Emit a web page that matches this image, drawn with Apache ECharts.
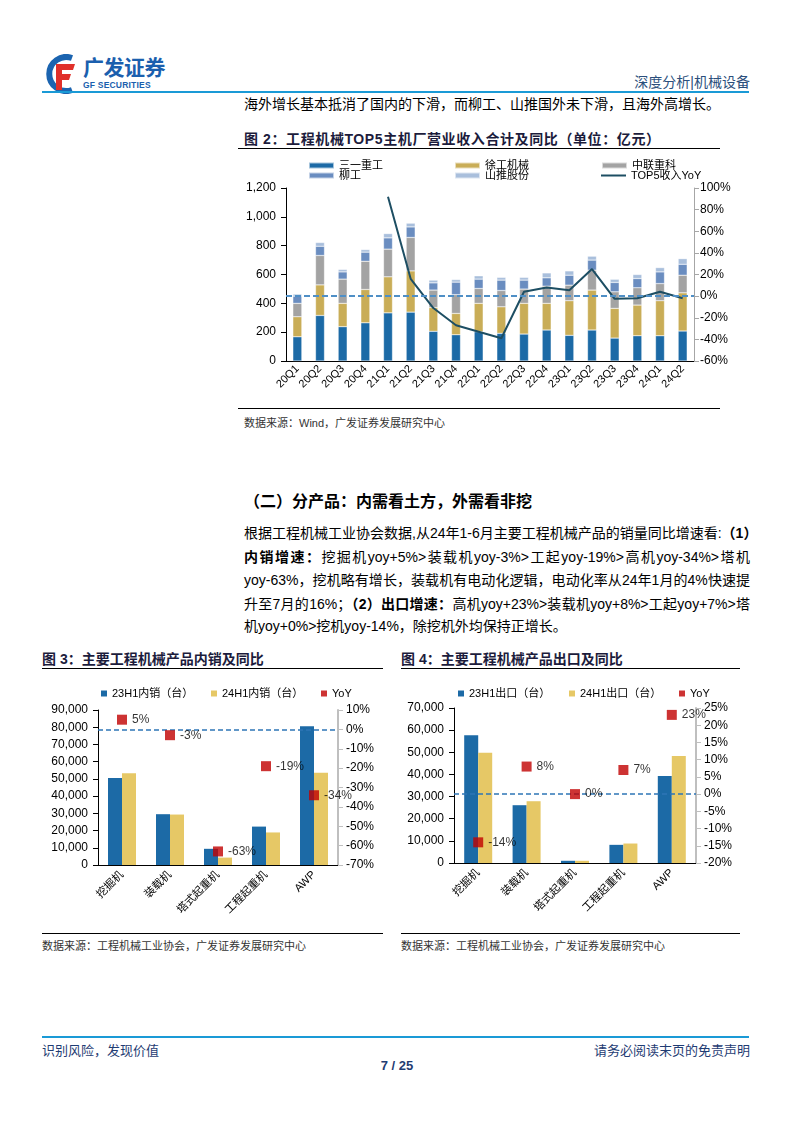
<!DOCTYPE html>
<html>
<head>
<meta charset="utf-8">
<script src="https://cdn.jsdelivr.net/npm/echarts@6/dist/echarts.min.js"></script>
<style>
  body { margin: 0; width: 794px; height: 1123px; background: #fff; position: relative;
         font-family: "Liberation Sans", Arial, "Noto Sans CJK SC", sans-serif; color: #000; }
  .abs { position: absolute; }
  .hline { position: absolute; height: 0; border-top: 1px solid #000; }
  .blue-line { position: absolute; height: 2px; background: #1a9ad6; }
  .title { font-size: 14px; font-weight: bold; color: #1c1c3c; white-space: nowrap; }
  .src { font-size: 11px; color: #333; white-space: nowrap; }
  .para { left: 244px; width: 506px; font-size: 14px; line-height: 18px; white-space: nowrap; }
  .just { text-align: justify; text-align-last: justify; }
</style>
</head>
<body>

<!-- header -->
<svg class="abs" style="left:42px;top:54px" width="40" height="40" viewBox="0 0 40 40">
  <path d="M30 4 A17 17 0 1 0 30 36" fill="none" stroke="#1b64b0" stroke-width="6"/>
  <path d="M14 10 H33 L31 16 H20 V20 H29 L27 26 H20 V36 H14 Z" fill="#e0302a"/>
</svg>
<div class="abs" style="left:83px;top:57px;font-size:21px;line-height:21px;font-weight:bold;color:#1b5fae;letter-spacing:-0.5px">广发证券</div>
<div class="abs" style="left:83px;top:81px;font-size:8.5px;line-height:9px;font-weight:bold;color:#1b5fae;letter-spacing:0.2px">GF SECURITIES</div>
<div class="abs" style="right:44px;top:71px;font-size:14px;color:#2b4f7c">深度分析|机械设备</div>
<div class="blue-line" style="left:42px;top:91px;width:707px"></div>
<div class="abs" style="left:244px;top:93px;font-size:14px">海外增长基本抵消了国内的下滑，而柳工、山推国外未下滑，且海外高增长。</div>

<!-- figure 2 -->
<div class="abs title" style="left:244px;top:128px;letter-spacing:0.6px">图 2：工程机械TOP5主机厂营业收入合计及同比（单位：亿元）</div>
<div class="hline" style="left:238px;top:148px;width:482px"></div>
<div id="chart1" class="abs" style="left:230px;top:150px;width:510px;height:250px"></div>
<div class="hline" style="left:238px;top:408px;width:482px"></div>
<div class="abs src" style="left:244px;top:414px">数据来源：Wind，广发证券发展研究中心</div>

<!-- section text -->
<div class="abs" style="left:244px;top:488px;font-size:16px;font-weight:bold">（二）分产品：内需看土方，外需看非挖</div>
<div class="abs para just" style="top:524px">根据工程机械工业协会数据,从24年1-6月主要工程机械产品的销量同比增速看:<b>（1）</b></div>
<div class="abs para just" style="top:548px"><b>内销增速：</b>挖掘机yoy+5%&gt;装载机yoy-3%&gt;工起yoy-19%&gt;高机yoy-34%&gt;塔机</div>
<div class="abs para just" style="top:571px">yoy-63%，挖机略有增长，装载机有电动化逻辑，电动化率从24年1月的4%快速提</div>
<div class="abs para just" style="top:595px">升至7月的16%；<b>（2）出口增速：</b>高机yoy+23%&gt;装载机yoy+8%&gt;工起yoy+7%&gt;塔</div>
<div class="abs para" style="top:617px">机yoy+0%&gt;挖机yoy-14%，除挖机外均保持正增长。</div>

<!-- figure 3 -->
<div class="abs title" style="left:42px;top:648px">图 3：主要工程机械产品内销及同比</div>
<div class="hline" style="left:42px;top:668px;width:341px"></div>
<div id="chart2" class="abs" style="left:40px;top:675px;width:345px;height:250px"></div>
<div class="hline" style="left:42px;top:933px;width:341px"></div>
<div class="abs src" style="left:42px;top:937px">数据来源：工程机械工业协会，广发证券发展研究中心</div>

<!-- figure 4 -->
<div class="abs title" style="left:401px;top:648px">图 4：主要工程机械产品出口及同比</div>
<div class="hline" style="left:401px;top:668px;width:339px"></div>
<div id="chart3" class="abs" style="left:398px;top:675px;width:350px;height:250px"></div>
<div class="hline" style="left:401px;top:933px;width:339px"></div>
<div class="abs src" style="left:401px;top:937px">数据来源：工程机械工业协会，广发证券发展研究中心</div>

<!-- footer -->
<div class="blue-line" style="left:42px;top:1036px;width:707px"></div>
<div class="abs" style="left:42px;top:1040px;font-size:13px;color:#1f3c73">识别风险，发现价值</div>
<div class="abs" style="right:44px;top:1040px;font-size:13px;color:#1f3c73">请务必阅读末页的免责声明</div>
<div class="abs" style="left:0;width:794px;top:1058px;text-align:center;font-size:13px;font-weight:bold;color:#1f3c73">7 / 25</div>

<script>
  // 图2 数据（亿元）
  const quarters = ['20Q1','20Q2','20Q3','20Q4','21Q1','21Q2','21Q3','21Q4','22Q1','22Q2','22Q3','22Q4','23Q1','23Q2','23Q3','23Q4','24Q1','24Q2']
  const sany = [168,316,238,265,334,339,206,182,203,192,187,215,178,215,159,175,175,208]
  const xcmg = [139,212,162,231,250,286,165,148,197,184,213,185,240,277,206,213,243,265]
  const zoomlion = [93,204,168,196,192,232,121,130,103,113,99,119,108,138,115,120,119,122]
  const liugong = [50,64,50,63,78,73,50,87,65,72,62,58,69,70,65,64,81,76]
  const shantui = [14,26,17,18,30,26,19,18,23,19,19,34,30,27,22,28,30,39]
  const top5Yoy = [null,null,null,null,92,16,-11,-27,-33,-39,4,8,5.5,25,-2.5,-2,4,-2]

  // 图3/图4 数据（台）
  const products = ['挖掘机','装载机','塔式起重机','工程起重机','AWP']
  const domestic23 = [50500,29500,9400,22300,80500]
  const domestic24 = [53300,29300,4300,18900,53500]
  const domesticYoy = [5,-3,-63,-19,-34]
  const export23 = [57700,26100,1000,8200,39300]
  const export24 = [49800,27900,1000,8800,48300]
  const exportYoy = [-14,8,0,7,23]

  const FONT = '"Liberation Sans", Arial, "Noto Sans CJK SC", sans-serif'
  const fmtNum = v => v.toLocaleString('en-US')

  function stackBar(name, data, color) {
    return { name, type: 'bar', stack: 'top5', barWidth: 9, data,
      itemStyle: { color, borderColor: 'rgba(255,255,255,0.6)', borderWidth: 0.5 } }
  }

  const chart1 = echarts.init(document.getElementById('chart1'))
  const legendBase = { itemWidth: 25, itemHeight: 6, icon: 'rect',
    textStyle: { fontSize: 11, fontFamily: FONT, color: '#000', lineHeight: 11 } }
  chart1.setOption({
    animation: false,
    legend: [
      Object.assign({ data: ['三一重工'], left: 73, top: 5 }, legendBase),
      Object.assign({ data: ['徐工机械'], left: 219, top: 5 }, legendBase),
      Object.assign({ data: ['中联重科'], left: 366, top: 5 }, legendBase),
      Object.assign({ data: ['柳工'], left: 73, top: 15 }, legendBase),
      Object.assign({ data: ['山推股份'], left: 219, top: 15 }, legendBase),
      Object.assign({ data: ['TOP5收入YoY'], left: 366, top: 15 }, legendBase, { itemHeight: 2 })
    ],
    grid: { left: 56, right: 46, top: 38, bottom: 39 },
    xAxis: {
      type: 'category', data: quarters,
      axisLine: { lineStyle: { color: '#000' } },
      axisTick: { lineStyle: { color: '#000' } },
      axisLabel: { rotate: 45, fontSize: 11, fontFamily: FONT, color: '#000', margin: 6 }
    },
    yAxis: [{
      type: 'value', min: 0, max: 1200, interval: 200,
      axisLine: { show: true, lineStyle: { color: '#000' } },
      axisTick: { show: true, lineStyle: { color: '#000' } },
      splitLine: { show: false },
      axisLabel: { fontSize: 12, fontFamily: FONT, color: '#000', margin: 10, formatter: fmtNum }
    }, {
      type: 'value', min: -60, max: 100, interval: 20,
      axisLine: { show: true, lineStyle: { color: '#a6a6a6' } },
      axisTick: { show: true, lineStyle: { color: '#a6a6a6' } },
      splitLine: { show: false },
      axisLabel: { fontSize: 12, fontFamily: FONT, color: '#000', margin: 6, formatter: '{value}%' }
    }],
    series: [
      stackBar('三一重工', sany, '#1c6aa6'),
      stackBar('徐工机械', xcmg, '#c9ad57'),
      stackBar('中联重科', zoomlion, '#a3a3a3'),
      stackBar('柳工', liugong, '#6a8dc0'),
      stackBar('山推股份', shantui, '#a9bfdc'),
      {
        name: 'TOP5收入YoY', type: 'line', yAxisIndex: 1, data: top5Yoy,
        showSymbol: false, symbol: 'none', connectNulls: false,
        lineStyle: { color: '#1d4e63', width: 2 }, itemStyle: { color: '#1d4e63' },
        markLine: { silent: true, symbol: 'none', label: { show: false },
          lineStyle: { type: [6, 3], color: '#4f8fc6', width: 2 },
          data: [{ yAxis: 0 }] }
      }
    ]
  })

  function productChart(id, names, v23, v24, yoy, opts) {
    const chart = echarts.init(document.getElementById(id))
    const leg = { itemWidth: 6, itemHeight: 6, icon: 'rect', itemGap: 2,
      textStyle: { fontSize: 11, fontFamily: FONT, color: '#000' } }
    chart.setOption({
      animation: false,
      legend: [
        Object.assign({ data: [names[0]], left: opts.legLeft[0], top: 8 }, leg),
        Object.assign({ data: [names[1]], left: opts.legLeft[1], top: 8 }, leg),
        Object.assign({ data: ['YoY'], left: opts.legLeft[2], top: 8 }, leg)
      ],
      grid: opts.grid,
      xAxis: {
        type: 'category', data: products,
        axisLine: { lineStyle: { color: '#000' } },
        axisTick: { lineStyle: { color: '#000' } },
        axisLabel: { rotate: 45, fontSize: 11, fontFamily: FONT, color: '#000', margin: 8 }
      },
      yAxis: [{
        type: 'value', min: 0, max: opts.max, interval: 10000,
        axisLine: { show: true, lineStyle: { color: '#000' } },
        axisTick: { show: true, lineStyle: { color: '#000' } },
        splitLine: { show: false },
        axisLabel: { fontSize: 12, fontFamily: FONT, color: '#000', margin: 10, formatter: fmtNum }
      }, {
        type: 'value', min: opts.rmin, max: opts.rmax, interval: opts.rint,
        axisLine: { show: true, lineStyle: { color: '#bfbfbf', width: 2 } },
        axisTick: { show: true, lineStyle: { color: '#bfbfbf' } },
        splitLine: { show: false },
        axisLabel: { fontSize: 12, fontFamily: FONT, color: '#000', margin: 8, formatter: '{value}%' }
      }],
      series: [
        { name: names[0], type: 'bar', data: v23, barWidth: 14, barGap: '0%',
          itemStyle: { color: '#1c6aa6' } },
        { name: names[1], type: 'bar', data: v24, barWidth: 14, barGap: '0%',
          itemStyle: { color: '#e6c866' } },
        {
          name: 'YoY', type: 'scatter', yAxisIndex: 1, data: yoy, z: 5,
          symbol: 'rect', symbolSize: 10, itemStyle: { color: '#c00000' },
          label: { show: true, position: 'right', distance: 5, formatter: '{c}%',
            fontSize: 12, fontFamily: FONT, color: '#000' },
          markLine: { silent: true, symbol: 'none', label: { show: false },
            lineStyle: { type: [5, 3], color: '#2e75b6', width: 1.5 },
            data: [{ yAxis: 0 }] }
        }
      ]
    })
  }

  productChart('chart2', ['23H1内销（台）', '24H1内销（台）'], domestic23, domestic24, domesticYoy, {
    legLeft: [56, 166, 276], grid: { left: 58, right: 47, top: 35, bottom: 60 },
    max: 90000, rmin: -70, rmax: 10, rint: 10
  })
  productChart('chart3', ['23H1出口（台）', '24H1出口（台）'], export23, export24, exportYoy, {
    legLeft: [55, 166, 276], grid: { left: 56, right: 52, top: 33, bottom: 62 },
    max: 70000, rmin: -20, rmax: 25, rint: 5
  })
</script>
</body>
</html>
